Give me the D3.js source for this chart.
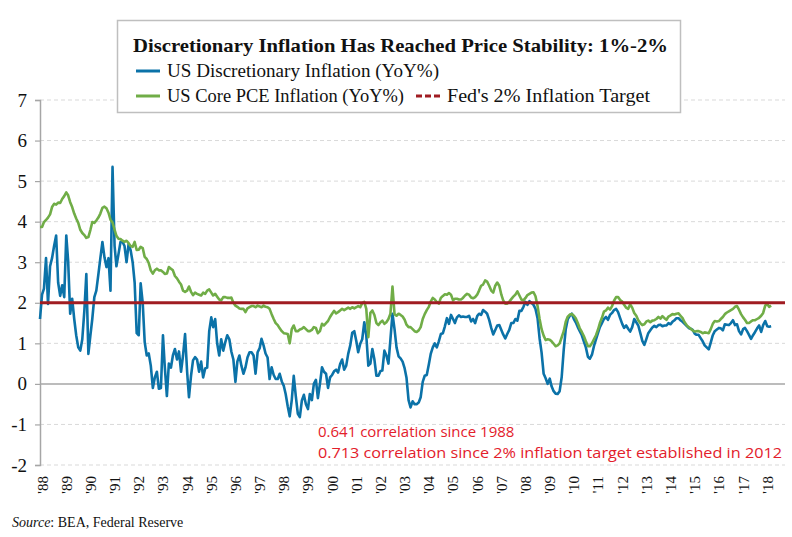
<!DOCTYPE html>
<html><head><meta charset="utf-8">
<script src="https://cdn.jsdelivr.net/npm/d3@7"></script>
<style>
html,body{margin:0;padding:0;background:#fff;}
svg{display:block;}
</style></head>
<body>
<script>
// ---------------- DATA ----------------
const startYear = 1988; // monthly series beginning Jan 1988
const yearLabels = d3.range(1988, 2019).map(y => "'" + String(y).slice(2));
const yTicks = [-2, -1, 0, 1, 2, 3, 4, 5, 6, 7];
const fedTarget = 2;

const discretionary = [
 1.60,2.20,2.35,3.10,1.97,2.90,3.10,3.40,3.66,2.50,2.17,2.43, // 1988
 2.14,3.66,3.04,1.73,2.10,1.60,1.20,0.90,0.82,1.10,1.80,2.71, // 1989
 0.74,1.20,1.60,2.14,2.30,2.70,3.10,3.50,3.12,2.88,3.10,2.30, // 1990
 5.35,3.40,2.90,3.20,3.50,3.50,3.40,3.00,3.45,3.30,3.00,2.50, // 1991
 1.25,1.20,2.48,2.00,1.03,0.70,0.75,0.45,-0.10,0.16,0.30,-0.12, // 1992
 -0.10,1.20,0.41,-0.30,0.50,0.40,0.70,0.86,0.60,0.80,0.30,0.70, // 1993
 1.23,0.30,-0.33,0.20,0.58,0.66,0.60,0.30,0.55,0.16,0.38,0.40, // 1994
 1.30,1.64,1.40,1.60,1.00,0.70,1.10,0.82,1.03,1.20,1.10,0.80, // 1995
 0.60,0.05,0.55,0.70,0.45,0.25,0.40,0.65,0.78,0.78,0.70,0.25, // 1996
 0.78,0.88,1.11,0.95,0.75,0.65,0.12,0.41,0.22,0.12,0.12,0.25, // 1997
 0.06,-0.05,-0.25,-0.55,-0.80,-0.40,0.20,-0.30,-0.74,-0.82,-0.41,-0.27, // 1998
 -0.50,-0.62,-0.25,-0.40,0.00,0.10,-0.35,0.00,0.41,0.30,0.25,-0.10, // 1999
 0.16,0.22,0.31,0.35,0.28,0.49,0.60,0.35,0.45,0.74,0.95,1.26, // 2000
 1.30,1.05,0.78,0.99,1.10,1.52,1.20,0.45,0.50,0.86,0.60,0.20, // 2001
 0.20,0.32,0.33,0.82,0.70,0.50,1.10,1.73,1.35,0.90,0.68,0.63, // 2002
 0.55,0.38,0.15,-0.40,-0.58,-0.43,-0.50,-0.50,-0.46,-0.33,0.05,0.20, // 2003
 0.22,0.48,0.74,0.90,1.00,0.90,1.05,1.23,1.25,1.42,1.62,1.48, // 2004
 1.70,1.60,1.50,1.64,1.69,1.65,1.66,1.65,1.65,1.68,1.54,1.60, // 2005
 1.50,1.67,1.73,1.70,1.82,1.78,1.73,1.58,1.38,1.22,1.33,1.44, // 2006
 1.45,1.33,1.22,1.12,1.23,1.33,1.50,1.50,1.60,1.56,1.80,1.80, // 2007
 1.90,2.02,1.95,2.04,2.00,1.95,1.85,1.62,1.12,0.77,0.25,0.14, // 2008
 0.00,0.13,-0.06,-0.18,-0.24,-0.25,-0.18,0.17,0.85,1.35,1.60,1.68, // 2009
 1.73,1.60,1.52,1.40,1.30,1.20,1.05,0.90,0.67,0.62,0.72,0.93, // 2010
 1.10,1.26,1.40,1.50,1.60,1.65,1.58,1.70,1.75,1.82,1.85,1.77, // 2011
 1.62,1.48,1.38,1.44,1.36,1.29,1.40,1.60,1.52,1.44,1.25,1.06, // 2012
 0.96,1.11,1.25,1.32,1.39,1.43,1.40,1.45,1.46,1.42,1.44,1.44, // 2013
 1.50,1.47,1.53,1.57,1.62,1.62,1.57,1.53,1.48,1.43,1.38,1.36, // 2014
 1.33,1.24,1.21,1.21,1.13,1.05,0.95,0.90,0.85,1.02,1.20,1.30, // 2015
 1.34,1.38,1.37,1.32,1.47,1.46,1.45,1.50,1.57,1.45,1.47,1.30, // 2016
 1.22,1.35,1.38,1.30,1.21,1.11,1.20,1.28,1.37,1.44,1.28,1.45, // 2017
 1.55,1.42,1.41,1.42 // 2018
];

const corePCE = [
 3.87,3.87,3.99,4.04,4.10,4.18,4.36,4.44,4.42,4.47,4.46,4.56, // 1988
 4.63,4.72,4.65,4.48,4.36,4.20,4.08,3.97,3.80,3.72,3.67,3.60, // 1989
 3.62,3.80,3.99,3.97,4.03,4.10,4.20,4.34,4.37,4.33,4.22,4.05, // 1990
 3.98,3.80,3.65,3.58,3.57,3.53,3.50,3.53,3.47,3.40,3.38,3.50, // 1991
 3.30,3.31,3.38,3.35,3.13,3.08,2.98,2.80,2.72,2.80,2.84,2.80, // 1992
 2.80,2.76,2.71,2.72,2.88,2.84,2.80,2.66,2.60,2.52,2.45,2.30, // 1993
 2.27,2.30,2.40,2.27,2.19,2.25,2.22,2.20,2.18,2.25,2.22,2.30, // 1994
 2.33,2.25,2.18,2.22,2.15,2.08,2.06,2.14,2.14,2.12,2.12,2.13, // 1995
 2.00,1.93,1.90,1.86,1.85,1.85,1.77,1.86,1.89,1.92,1.92,1.89, // 1996
 1.93,1.91,1.89,1.93,1.90,1.89,1.85,1.72,1.60,1.50,1.45,1.37, // 1997
 1.30,1.25,1.24,1.23,1.00,1.35,1.44,1.30,1.30,1.34,1.36,1.40, // 1998
 1.35,1.30,1.30,1.33,1.40,1.38,1.25,1.30,1.48,1.44,1.50,1.55, // 1999
 1.65,1.73,1.80,1.74,1.77,1.81,1.85,1.82,1.85,1.88,1.85,1.89, // 2000
 1.86,1.89,1.92,1.89,1.99,2.02,1.85,1.15,1.75,1.81,1.70,1.50, // 2001
 1.45,1.52,1.56,1.48,1.52,1.60,1.73,2.40,1.72,1.68,1.73,1.70, // 2002
 1.66,1.58,1.46,1.40,1.40,1.35,1.30,1.28,1.32,1.40,1.60,1.72, // 2003
 1.82,1.90,2.03,2.12,2.08,2.02,1.98,2.12,2.17,2.21,2.20,2.24, // 2004
 2.20,2.06,2.10,2.10,2.08,2.08,2.12,2.18,2.22,2.20,2.13,2.11, // 2005
 2.14,2.20,2.30,2.42,2.45,2.55,2.52,2.42,2.30,2.25,2.42,2.50, // 2006
 2.42,2.20,2.06,1.98,1.98,2.03,2.09,2.15,2.20,2.28,2.18,2.08, // 2007
 2.06,2.12,2.19,2.22,2.25,2.26,2.16,1.92,1.60,1.35,1.19,1.08, // 2008
 1.10,1.09,1.05,0.99,0.93,0.95,1.00,1.15,1.30,1.53,1.66,1.71, // 2009
 1.72,1.68,1.62,1.50,1.37,1.28,1.18,1.05,0.93,0.93,1.00,1.10, // 2010
 1.20,1.34,1.50,1.63,1.78,1.81,1.88,1.83,1.92,2.05,2.14,2.14, // 2011
 2.07,2.03,1.95,1.88,1.85,1.96,1.88,1.75,1.68,1.57,1.50,1.45, // 2012
 1.47,1.54,1.56,1.52,1.56,1.57,1.60,1.65,1.61,1.67,1.62,1.58, // 2013
 1.66,1.69,1.72,1.71,1.73,1.74,1.68,1.62,1.52,1.45,1.40,1.36, // 2014
 1.32,1.29,1.30,1.30,1.28,1.25,1.27,1.26,1.25,1.35,1.48,1.55, // 2015
 1.54,1.55,1.60,1.65,1.72,1.76,1.79,1.82,1.85,1.90,1.92,1.83, // 2016
 1.72,1.64,1.58,1.50,1.50,1.54,1.57,1.57,1.60,1.63,1.68,1.75, // 2017
 1.93,1.97,1.90,1.93 // 2018
];

const titleText = "Discretionary Inflation Has Reached Price Stability: 1%-2%";
const seriesNames = ["US Discretionary Inflation (YoY%)", "US Core PCE Inflation (YoY%)", "Fed's 2% Inflation Target"];
const notes = ["0.641 correlation since 1988", "0.713 correlation since 2% inflation target established in 2012"];

// ---------------- CHART ----------------
const W = 792, H = 537;
const svg = d3.select("body").append("svg").attr("width", W).attr("height", H);

const x = d3.scaleTime()
  .domain([new Date(1988, 0, 1), new Date(2018, 9, 27)])
  .range([40, 785]);
const y = d3.scaleLinear().domain([-2, 7]).range([465, 100]);

const monthDate = i => new Date(startYear, i, 1);

// gridlines
svg.append("g").selectAll("line").data(yTicks.filter(v => v !== 0)).join("line")
  .attr("x1", 40).attr("x2", 785)
  .attr("y1", d => y(d)).attr("y2", d => y(d))
  .attr("stroke", "#d9d9d9").attr("stroke-width", 1).attr("stroke-dasharray", "4,3");

// zero line
svg.append("line").attr("x1", 40).attr("x2", 785).attr("y1", y(0)).attr("y2", y(0))
  .attr("stroke", "#a6a6a6").attr("stroke-width", 1.5);

// y axis
const yAxis = svg.append("g").attr("transform", "translate(40,0)")
  .call(d3.axisLeft(y).tickValues(yTicks).tickSize(5).tickFormat(d => String(d)));
yAxis.select(".domain").attr("stroke", "#a6a6a6").attr("stroke-width", 1.5);
yAxis.selectAll(".tick line").attr("stroke", "#a6a6a6").attr("stroke-width", 1.2);
yAxis.selectAll(".tick text").attr("x", -13)
  .attr("font-family", "'Liberation Serif', serif").attr("font-size", 19).attr("fill", "#111");

// x labels
const xAxis = svg.append("g").attr("transform", "translate(0,465)")
  .call(d3.axisBottom(x).tickValues(d3.range(1988, 2019).map(yr => new Date(yr, 0, 1))).tickSize(0)
    .tickFormat((d, i) => yearLabels[i]));
xAxis.select(".domain").remove();
xAxis.selectAll(".tick text")
  .attr("transform", "rotate(-90)")
  .attr("text-anchor", "end").attr("dominant-baseline", "central")
  .attr("x", -11).attr("y", 2).attr("dy", null)
  .attr("font-family", "'Liberation Serif', serif").attr("font-size", 15).attr("fill", "#111");

// series lines
const line = d3.line().x((d, i) => x(monthDate(i))).y(d => y(d));
svg.append("path").datum(discretionary).attr("d", line)
  .attr("fill", "none").attr("stroke", "#0b72a8").attr("stroke-width", 2.6).attr("stroke-linejoin", "round");
svg.append("path").datum(corePCE).attr("d", line)
  .attr("fill", "none").attr("stroke", "#70ad47").attr("stroke-width", 2.6).attr("stroke-linejoin", "round");

// fed target
svg.append("line").attr("x1", 40).attr("x2", 785).attr("y1", y(fedTarget)).attr("y2", y(fedTarget))
  .attr("stroke", "#a01c22").attr("stroke-width", 3);

// legend box
const lg = svg.append("g");
lg.append("rect").attr("x", 117.5).attr("y", 20.5).attr("width", 563).attr("height", 92)
  .attr("fill", "#fff").attr("stroke", "#bfbfbf").attr("stroke-width", 1.5);
lg.append("text").attr("x", 133).attr("y", 52).text(titleText)
  .attr("font-family", "'Liberation Serif', serif").attr("font-weight", "bold").attr("font-size", 19)
  .attr("fill", "#111").attr("textLength", 535).attr("lengthAdjust", "spacingAndGlyphs");

const legendItems = [
  {name: seriesNames[0], color: "#0b72a8", dash: null, x: 136, y: 77, w: 272},
  {name: seriesNames[1], color: "#70ad47", dash: null, x: 136, y: 102, w: 237},
  {name: seriesNames[2], color: "#a01c22", dash: "6,3", x: 416, y: 102, w: 203}
];
legendItems.forEach(it => {
  lg.append("line").attr("x1", it.x).attr("x2", it.x + 24).attr("y1", it.y - 6).attr("y2", it.y - 6)
    .attr("stroke", it.color).attr("stroke-width", 3).attr("stroke-dasharray", it.dash);
  lg.append("text").attr("x", it.x + 31).attr("y", it.y).text(it.name)
    .attr("font-family", "'Liberation Serif', serif").attr("font-size", 18).attr("fill", "#111")
    .attr("textLength", it.w).attr("lengthAdjust", "spacingAndGlyphs");
});

// annotations
svg.append("text").attr("x", 318).attr("y", 437).text(notes[0])
  .attr("font-family", "'Open Sans', sans-serif").attr("font-size", 15).attr("fill", "#e3202b");
svg.append("text").attr("x", 318).attr("y", 458).text(notes[1])
  .attr("font-family", "'Open Sans', sans-serif").attr("font-size", 15).attr("fill", "#e3202b")
  .attr("textLength", 464).attr("lengthAdjust", "spacingAndGlyphs");

// source
const src = svg.append("text").attr("x", 12).attr("y", 527)
  .attr("font-family", "'Liberation Serif', serif").attr("font-size", 14).attr("fill", "#111");
src.append("tspan").attr("font-style", "italic").text("Source");
src.append("tspan").text(": BEA, Federal Reserve");
</script>
</body></html>
